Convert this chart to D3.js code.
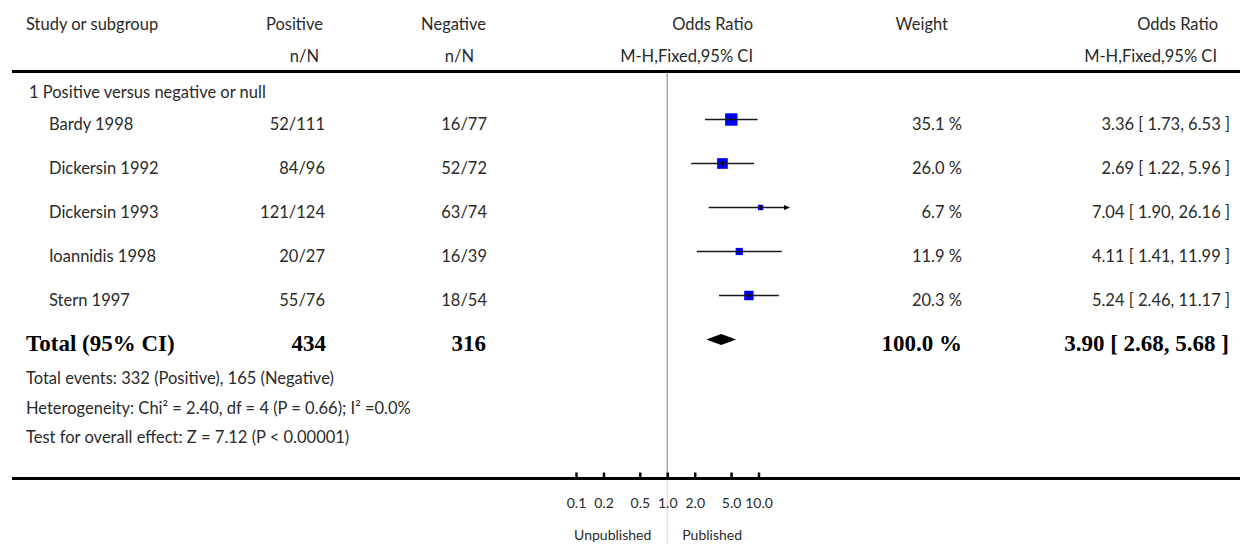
<!DOCTYPE html>
<html>

<head>
    <meta charset="utf-8">
    <title>Forest Plot</title>
    <script src="https://d3js.org/d3.v7.min.js"></script>
    <style>
        body {
            margin: 0;
            background: #fff;
        }

        .forest-plot text {
            font-family: Lato, "Open Sans", sans-serif;
            font-size: 16.5px;
            fill: #2a2a2a;
        }

        .forest-plot text.total {
            font-family: "Liberation Serif", "DejaVu Serif", serif;
            font-weight: bold;
            font-size: 23px;
            fill: #000;
        }

        .forest-plot text.small {
            font-size: 14px;
        }
    </style>
</head>

<body>
    <div class="forest-plot"></div>
    <script>
        // study data
        var studies = ["Bardy 1998", "Dickersin 1992", "Dickersin 1993", "Ioannidis 1998", "Stern 1997"];
        var positiveN = ["52/111", "84/96", "121/124", "20/27", "55/76"];
        var negativeN = ["16/77", "52/72", "63/74", "16/39", "18/54"];
        var oddsRatio = [3.36, 2.69, 7.04, 4.11, 5.24];
        var ciLow = [1.73, 1.22, 1.90, 1.41, 2.46];
        var ciHigh = [6.53, 5.96, 26.16, 11.99, 11.17];
        var weights = [35.1, 26.0, 6.7, 11.9, 20.3];

        // pooled result
        var totalPositive = 434, totalNegative = 316;
        var totalOR = 3.90, totalLow = 2.68, totalHigh = 5.68, totalWeight = 100.0;

        var subgroupLabel = "1 Positive versus negative or null";
        var footnotes = [
            "Total events: 332 (Positive), 165 (Negative)",
            "Heterogeneity: Chi\u00b2 = 2.40, df = 4 (P = 0.66); I\u00b2 =0.0%",
            "Test for overall effect: Z = 7.12 (P < 0.00001)"
        ];

        // axis
        var tickValues = [0.1, 0.2, 0.5, 1, 2, 5, 10];
        var tickLabels = ["0.1", "0.2", "0.5", "1.0", "2.0", "5.0", "10.0"];
        var favoursLeft = "Unpublished", favoursRight = "Published";

        var width = 1240, height = 544;
        var axisY = 478.5;

        // scales: axis/diamond, and study markers (drawn offset as in the original figure)
        var x = d3.scaleLog().domain([0.1, 10]).range([576, 758.5]);
        var xStudy = d3.scaleLog().domain([0.1, 10]).range([592, 774.5]);
        var clipRight = 790;
        var rowY = d3.scaleLinear().domain([0, studies.length - 1]).range([129.5, 305.5]);
        var boxSize = d3.scaleSqrt().domain([0, d3.max(weights)]).range([0, 12.4]);

        var svg = d3.select(".forest-plot")
            .append("svg")
            .attr("width", width)
            .attr("height", height);

        function txt(x0, y0, s, anchor, cls) {
            return svg.append("text")
                .attr("x", x0)
                .attr("y", y0)
                .attr("text-anchor", anchor || "start")
                .attr("class", cls || null)
                .text(s);
        }

        // header
        txt(26, 30, "Study or subgroup");
        txt(323, 30, "Positive", "end");
        txt(319, 62, "n/N", "end");
        txt(486, 30, "Negative", "end");
        txt(474, 62, "n/N", "end");
        txt(753, 30, "Odds Ratio", "end");
        txt(753, 62, "M-H,Fixed,95% CI", "end");
        txt(948, 30, "Weight", "end");
        txt(1218, 30, "Odds Ratio", "end");
        txt(1217, 62, "M-H,Fixed,95% CI", "end");

        svg.append("line")
            .attr("x1", 12).attr("x2", width)
            .attr("y1", 71.5).attr("y2", 71.5)
            .attr("stroke", "#000")
            .attr("stroke-width", 3);

        // null line
        svg.append("line")
            .attr("x1", x(1)).attr("x2", x(1))
            .attr("y1", 73).attr("y2", axisY)
            .attr("stroke", "#a8a8a8")
            .attr("stroke-width", 1.5);
        svg.append("line")
            .attr("x1", x(1)).attr("x2", x(1))
            .attr("y1", axisY).attr("y2", height)
            .attr("stroke", "#d4d4d4")
            .attr("stroke-width", 1);

        txt(29, 98, subgroupLabel);

        // study rows
        var rows = svg.selectAll("g.row")
            .data(studies)
            .enter()
            .append("g")
            .attr("class", "row");

        rows.append("text").attr("x", 49).attr("y", function (d, i) { return rowY(i); }).text(function (d) { return d; });
        rows.append("text").attr("x", 325).attr("y", function (d, i) { return rowY(i); })
            .attr("text-anchor", "end").text(function (d, i) { return positiveN[i]; });
        rows.append("text").attr("x", 487).attr("y", function (d, i) { return rowY(i); })
            .attr("text-anchor", "end").text(function (d, i) { return negativeN[i]; });
        rows.append("text").attr("x", 962).attr("y", function (d, i) { return rowY(i); })
            .attr("text-anchor", "end").text(function (d, i) { return weights[i].toFixed(1) + " %"; });
        rows.append("text").attr("x", 1230).attr("y", function (d, i) { return rowY(i); })
            .attr("text-anchor", "end")
            .text(function (d, i) {
                return oddsRatio[i].toFixed(2) + " [ " + ciLow[i].toFixed(2) + ", " + ciHigh[i].toFixed(2) + " ]";
            });

        // boxes
        rows.append("rect")
            .attr("x", function (d, i) { return xStudy(oddsRatio[i]) - boxSize(weights[i]) / 2; })
            .attr("y", function (d, i) { return rowY(i) - 10 - boxSize(weights[i]) / 2; })
            .attr("width", function (d, i) { return boxSize(weights[i]); })
            .attr("height", function (d, i) { return boxSize(weights[i]); })
            .attr("fill", "#0000ff");

        // confidence intervals
        rows.append("line")
            .attr("x1", function (d, i) { return xStudy(ciLow[i]); })
            .attr("x2", function (d, i) { return Math.min(xStudy(ciHigh[i]), clipRight) - (xStudy(ciHigh[i]) > clipRight ? 4 : 0); })
            .attr("y1", function (d, i) { return rowY(i) - 10; })
            .attr("y2", function (d, i) { return rowY(i) - 10; })
            .attr("stroke", "#1a1a1a")
            .attr("stroke-width", 1.5);

        // centre tick
        rows.append("line")
            .attr("x1", function (d, i) { return xStudy(oddsRatio[i]); })
            .attr("x2", function (d, i) { return xStudy(oddsRatio[i]); })
            .attr("y1", function (d, i) { return rowY(i) - 12.5; })
            .attr("y2", function (d, i) { return rowY(i) - 7.5; })
            .attr("stroke", "#000")
            .attr("stroke-width", 1);

        // arrow where the CI runs off the plot
        rows.filter(function (d, i) { return xStudy(ciHigh[i]) > clipRight; })
            .append("path")
            .attr("d", function (d) {
                var i = studies.indexOf(d), cy = rowY(i) - 10;
                return "M" + clipRight + "," + cy + "L" + (clipRight - 6) + "," + (cy - 2.5) + "L" + (clipRight - 6) + "," + (cy + 2.5) + "Z";
            })
            .attr("fill", "#000");

        // total row
        var totalY = 351;
        txt(26, totalY, "Total (95% CI)", "start", "total");
        txt(326, totalY, totalPositive, "end", "total");
        txt(486, totalY, totalNegative, "end", "total");
        txt(962, totalY, totalWeight.toFixed(1) + " %", "end", "total");
        txt(1229, totalY, totalOR.toFixed(2) + " [ " + totalLow.toFixed(2) + ", " + totalHigh.toFixed(2) + " ]", "end", "total");

        var dy = 339.5;
        svg.append("path")
            .attr("d", "M" + x(totalLow) + "," + dy +
                "L" + x(totalOR) + "," + (dy - 5.5) +
                "L" + x(totalHigh) + "," + dy +
                "L" + x(totalOR) + "," + (dy + 5.5) + "Z")
            .attr("fill", "#000");

        // footnotes
        footnotes.forEach(function (f, i) {
            txt(26, 384 + i * 29.5, f);
        });

        // axis
        svg.append("line")
            .attr("x1", 12).attr("x2", width)
            .attr("y1", axisY).attr("y2", axisY)
            .attr("stroke", "#000")
            .attr("stroke-width", 3);

        var axis = svg.append("g")
            .attr("transform", "translate(0," + axisY + ")")
            .call(d3.axisBottom(x)
                .tickValues(tickValues)
                .tickFormat(function (d, i) { return tickLabels[i]; })
                .tickSizeInner(-6)
                .tickSizeOuter(0)
                .tickPadding(20));
        axis.select(".domain").remove();
        axis.selectAll(".tick line").attr("stroke", "#000").attr("stroke-width", 2.5);
        axis.selectAll(".tick text")
            .attr("class", "small")
            .attr("font-family", null)
            .attr("font-size", null)
            .attr("fill", null);

        txt(x(1) - 16, 540, favoursLeft, "end", "small");
        txt(x(1) + 15, 540, favoursRight, "start", "small");
    </script>
</body>

</html>
